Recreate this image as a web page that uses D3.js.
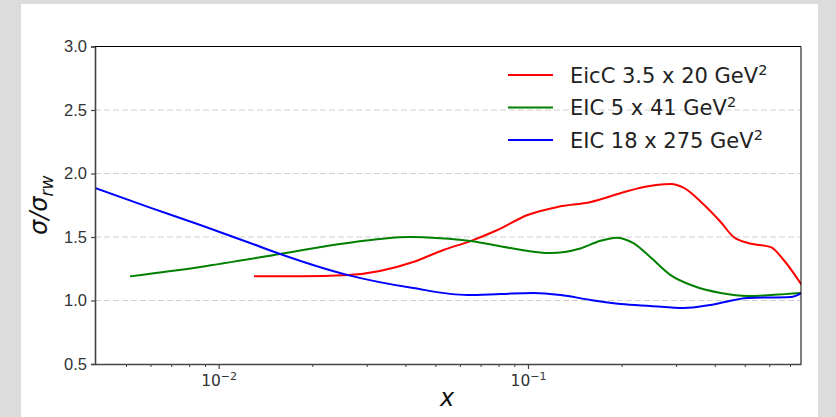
<!DOCTYPE html>
<html>
<head>
<meta charset="utf-8">
<script src="https://cdn.jsdelivr.net/npm/d3@7"></script>
<style>
  body { margin: 0; background: #dcdcdc; }
  svg { display: block; font-family: "DejaVu Sans", sans-serif; }
</style>
</head>
<body>
<div id="chart"></div>
<script>
// series data (x is Bjorken x, y is sigma / sigma_rw)
const eiccX = [0.01297, 0.0183, 0.0261, 0.0424, 0.0531, 0.0649, 0.0794, 0.0993, 0.124, 0.159, 0.199, 0.236, 0.288, 0.318, 0.361, 0.418, 0.460, 0.512, 0.607, 0.668, 0.764];
const eiccY = [1.19, 1.19, 1.20, 1.303, 1.398, 1.468, 1.555, 1.673, 1.736, 1.776, 1.846, 1.894, 1.917, 1.886, 1.776, 1.618, 1.50, 1.453, 1.42, 1.319, 1.122];

const eic41X = [0.00515, 0.00869, 0.01575, 0.0246, 0.0415, 0.0519, 0.0649, 0.0874, 0.1177, 0.147, 0.171, 0.192, 0.219, 0.248, 0.288, 0.342, 0.418, 0.512, 0.621, 0.764];
const eic41Y = [1.19, 1.264, 1.366, 1.445, 1.50, 1.49, 1.468, 1.413, 1.374, 1.41, 1.47, 1.495, 1.45, 1.34, 1.20, 1.114, 1.059, 1.035, 1.045, 1.06];

const eic275X = [0.00397, 0.00598, 0.00869, 0.01259, 0.01575, 0.0261, 0.0424, 0.0635, 0.0811, 0.1038, 0.127, 0.159, 0.199, 0.248, 0.318, 0.388, 0.512, 0.705, 0.764];
const eic275Y = [1.886, 1.731, 1.594, 1.453, 1.366, 1.20, 1.098, 1.043, 1.051, 1.059, 1.043, 1.004, 0.972, 0.957, 0.941, 0.965, 1.020, 1.028, 1.059];

const seriesNames = ["EicC 3.5 x 20 GeV", "EIC 5 x 41 GeV", "EIC 18 x 275 GeV"];
const seriesColors = ["#ff0000", "#008000", "#0000ff"];
const yTicks = [0.5, 1.0, 1.5, 2.0, 2.5, 3.0];
const yGrid = [1.0, 1.5, 2.0, 2.5];
const xMajor = [0.01, 0.1];
const xMinor = [0.005, 0.006, 0.007, 0.008, 0.009, 0.02, 0.03, 0.04, 0.05, 0.06, 0.07, 0.08, 0.09, 0.2, 0.3, 0.4, 0.5, 0.6, 0.7];

const width = 836, height = 417;
const margin = { left: 95, right: 35, top: 46.5, bottom: 53 };

const svg = d3.select("#chart").append("svg")
    .attr("width", width)
    .attr("height", height);

// white panel behind the figure
svg.append("rect")
    .attr("x", 21).attr("y", 4)
    .attr("width", 797).attr("height", 413)
    .attr("fill", "#fff");

const x = d3.scaleLog()
    .domain([0.00397, 0.76])
    .range([margin.left, width - margin.right]);

const y = d3.scaleLinear()
    .domain([0.5, 3.0])
    .range([height - margin.bottom, margin.top]);

// grid
svg.append("g").selectAll("line")
    .data(yGrid)
    .enter().append("line")
    .attr("x1", x.range()[0]).attr("x2", x.range()[1])
    .attr("y1", d => y(d)).attr("y2", d => y(d))
    .attr("stroke", "#d0d0d0")
    .attr("stroke-width", 1.2)
    .attr("stroke-dasharray", "6,3");

// curves
const line = d3.line()
    .x(d => x(d[0]))
    .y(d => y(d[1]))
    .curve(d3.curveMonotoneX);

const allSeries = [
    d3.zip(eiccX, eiccY),
    d3.zip(eic41X, eic41Y),
    d3.zip(eic275X, eic275Y)
];

svg.append("defs").append("clipPath").attr("id", "clip")
    .append("rect")
    .attr("x", x.range()[0]).attr("y", y.range()[1])
    .attr("width", x.range()[1] - x.range()[0])
    .attr("height", y.range()[0] - y.range()[1]);

svg.append("g").attr("clip-path", "url(#clip)")
    .selectAll("path")
    .data(allSeries)
    .enter().append("path")
    .attr("d", line)
    .attr("fill", "none")
    .attr("stroke", (d, i) => seriesColors[i])
    .attr("stroke-width", 2);

// axes
const yAxis = svg.append("g")
    .attr("transform", "translate(" + x.range()[0] + ",0)")
    .call(d3.axisLeft(y).tickValues(yTicks).tickFormat(d3.format(".1f")).tickSize(4).tickPadding(4));
yAxis.select(".domain").attr("stroke", "#444").attr("stroke-width", 1.6);
yAxis.selectAll(".tick line").attr("stroke", "#444").attr("stroke-width", 1.2);
yAxis.selectAll(".tick text").attr("font-size", 16.5).attr("fill", "#333");

const xAxis = svg.append("g")
    .attr("transform", "translate(0," + y.range()[0] + ")");
xAxis.call(d3.axisBottom(x).tickValues(xMinor).tickFormat("").tickSize(3).tickSizeOuter(0));
xAxis.select(".domain").attr("stroke", "#444").attr("stroke-width", 1.6);
xAxis.selectAll(".tick line").attr("stroke", "#444").attr("stroke-width", 1);

const major = svg.append("g")
    .attr("transform", "translate(0," + y.range()[0] + ")")
    .selectAll("g")
    .data(xMajor)
    .enter().append("g")
    .attr("transform", d => "translate(" + x(d) + ",0)");
major.append("line").attr("y2", 5).attr("stroke", "#444").attr("stroke-width", 1.2);
const mt = major.append("text")
    .attr("y", 22)
    .attr("text-anchor", "middle")
    .attr("font-size", 15.5)
    .attr("fill", "#333");
mt.append("tspan").text("10");
mt.append("tspan").attr("dy", -6).attr("font-size", 11).text(d => "\u2212" + Math.round(-Math.log10(d)));

// top and right spines
svg.append("line")
    .attr("x1", x.range()[0]).attr("x2", x.range()[1])
    .attr("y1", y.range()[1]).attr("y2", y.range()[1])
    .attr("stroke", "#000").attr("stroke-width", 1);
svg.append("line")
    .attr("x1", x.range()[1]).attr("x2", x.range()[1])
    .attr("y1", y.range()[1]).attr("y2", y.range()[0])
    .attr("stroke", "#000").attr("stroke-width", 1);

// axis labels
svg.append("text")
    .attr("x", 447).attr("y", 406)
    .attr("text-anchor", "middle")
    .attr("font-size", 24)
    .attr("font-style", "italic")
    .attr("fill", "#111")
    .text("x");

const yl = svg.append("text")
    .attr("transform", "translate(47," + y(1.75) + ") rotate(-90)")
    .attr("text-anchor", "middle")
    .attr("font-size", 24)
    .attr("font-style", "italic")
    .attr("fill", "#111");
yl.append("tspan").text("\u03c3/\u03c3");
yl.append("tspan").attr("dy", 6).attr("font-size", 17).text("rw");

// legend
const legend = svg.append("g").selectAll("g")
    .data(seriesNames)
    .enter().append("g")
    .attr("transform", (d, i) => "translate(508," + (75 + i * 32.5) + ")");
legend.append("line")
    .attr("x2", 45)
    .attr("stroke", (d, i) => seriesColors[i])
    .attr("stroke-width", 2);
const lt = legend.append("text")
    .attr("x", 62).attr("y", 7.5)
    .attr("font-size", 21)
    .attr("fill", "#222");
lt.append("tspan").text(d => d);
lt.append("tspan").attr("dy", -8).attr("font-size", 14.5).text("2");
</script>
</body>
</html>
